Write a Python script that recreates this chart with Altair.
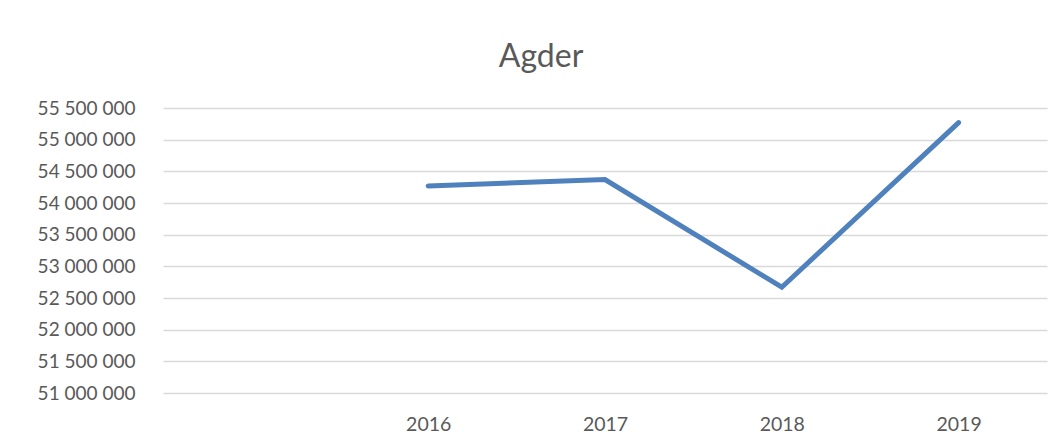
import altair as alt
import pandas as pd

categories = ["", "2016", "2017", "2018", "2019"]
years = ["2016", "2017", "2018", "2019"]
values = [54270000, 54370000, 52670000, 55270000]
y_ticks = [51000000, 51500000, 52000000, 52500000, 53000000, 53500000,
           54000000, 54500000, 55000000, 55500000]

df = pd.DataFrame({"year": years, "value": values})

FONT = "Lato"
GREY = "#595959"

chart = alt.Chart(df, title=alt.Title(
    "Agder", fontSize=32, font=FONT, fontWeight="normal", color=GREY,
    dx=-64, offset=25, anchor="middle")).mark_line(
    color="#4F81BD", strokeWidth=5, strokeCap="round", strokeJoin="miter"
).encode(
    x=alt.X("year:N", scale=alt.Scale(type="point", domain=categories, padding=0.5),
            axis=alt.Axis(title=None, labelAngle=0, ticks=False, domain=False,
                          labelFont=FONT, labelFontSize=19.5, labelColor=GREY,
                          labelPadding=22, grid=False)),
    y=alt.Y("value:Q", scale=alt.Scale(domain=[51000000, 55500000], nice=False, zero=False),
            axis=alt.Axis(title=None, values=y_ticks, ticks=False, domain=False,
                          labelFont=FONT, labelFontSize=19, labelColor=GREY,
                          labelPadding=28, gridColor="#D9D9D9", gridWidth=1.5,
                          labelExpr="replace(format(datum.value, ','), /,/g, ' ')"))
).properties(
    width=884, height=285,
    autosize=alt.AutoSizeParams(type="none"),
    padding={"left": 155, "top": 100, "right": 9, "bottom": 43}
).configure_view(stroke=None)

chart.save("out.html", embed_options={"renderer": "svg", "actions": False})
